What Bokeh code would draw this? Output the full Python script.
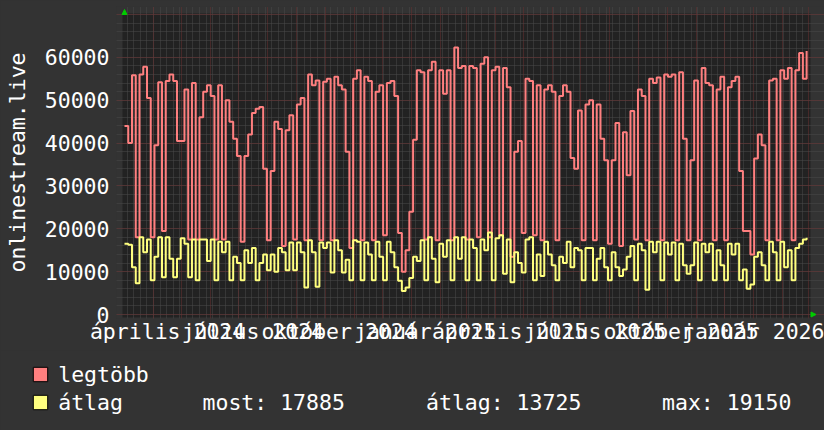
import datetime as dt
from bokeh.plotting import figure
from bokeh.layouts import column
from bokeh.models import (Range1d, LinearAxis, FixedTicker, Grid, Legend, LegendItem,
                          Label, Arrow, NormalHead, ColumnDataSource, AllLabels,
                          BoxAnnotation)
from bokeh.embed import file_html
from bokeh.resources import INLINE

# ---------------- data ----------------
START = dt.date(2024, 3, 1)
SPAN_DAYS = 730
STEP_DAYS = 4
Y_MAX = 70000

legtobb = [
    44000, 40000, 55800, 18000, 56000, 57800, 50500, 18000, 39500, 54200,
    19500, 54500, 56000, 54500, 40500, 40500, 52500, 17500, 54000, 17500,
    46000, 52000, 53500, 51000, 17500, 53500, 17500, 50000, 45000, 41000,
    37000, 17000, 37000, 42000, 47000, 48000, 48400, 34000, 17300, 33500,
    45000, 43300, 16000, 43000, 46500, 17500, 49000, 50500, 17300, 56000,
    53500, 54600, 17300, 54300, 55000, 17300, 55500, 53500, 52500, 38000,
    15500, 55000, 57000, 17300, 55500, 54500, 17300, 52000, 53500, 18500,
    54000, 54500, 51000, 19000, 10000, 15000, 24000, 40800, 57000, 56500,
    17500, 57000, 59000, 17300, 57000, 51500, 57000, 17300, 62300, 57500,
    58000, 17500, 58000, 57500, 18000, 58500, 60000, 18000, 57000, 57800,
    18500, 57500, 53000, 13500, 38000, 40500, 19000, 55000, 54500, 18500,
    53500, 17300, 52500, 53500, 52000, 17300, 51000, 53500, 52000, 36500,
    34000, 47600, 17300, 49000, 50000, 17300, 49000, 41000, 36000, 16500,
    36000, 44700, 16000, 42500, 32500, 47500, 17500, 52500, 51000, 17300,
    55000, 54000, 55300, 17300, 56000, 55500, 56000, 17300, 56500, 41000,
    17300, 36000, 54600, 17300, 57500, 54000, 53500, 17300, 52500, 55500,
    17300, 53000, 54500, 55500, 33500, 19500, 19500, 14000, 36400, 42000,
    39500, 17300, 54600, 55000, 17300, 57000, 55000, 57500, 17300, 57000,
    61000, 55000, 61500,
]

atlag = [
    16500, 16300, 11000, 7300, 18000, 14500, 17500, 8000, 13500, 18000,
    8700, 18000, 13000, 8700, 13000, 17800, 16500, 8700, 17500, 8000,
    17500, 17500, 12500, 17500, 8000, 17000, 14500, 17000, 8000, 13500,
    12000, 8000, 15000, 12000, 15500, 8000, 12000, 14000, 10300, 14000,
    10000, 15500, 14500, 10300, 16800, 10300, 16800, 14500, 6300, 17300,
    14500, 6500, 16800, 15500, 16800, 9800, 17300, 15000, 9800, 12800,
    8000, 17300, 17000, 8000, 16800, 14000, 8000, 17000, 13500, 8000,
    17000, 14500, 11000, 7900, 5500, 6300, 8500, 13500, 12500, 17300,
    8000, 18000, 13000, 7500, 16500, 13500, 17300, 8000, 18000, 13000,
    18000, 8000, 17500, 15500, 8000, 17500, 15000, 19150, 8000, 17800,
    18500, 9500, 17500, 7500, 14500, 12000, 9800, 17500, 18000, 8000,
    14000, 9000, 17000, 14000, 11500, 8000, 13500, 12000, 17000, 11000,
    15500, 15000, 8000, 15500, 15500, 8000, 13000, 15500, 11000, 8000,
    14500, 11000, 9000, 10500, 13500, 16000, 8000, 16500, 15000, 5800,
    17000, 14500, 17000, 8000, 16800, 14000, 16800, 8000, 16500, 11500,
    9500, 11500, 16800, 8000, 16500, 14500, 16500, 8000, 15000, 11500,
    8000, 16500, 14000, 16500, 8000, 10500, 6000, 7000, 13500, 14500,
    11500, 8000, 17000, 14500, 8000, 17000, 11000, 15000, 8000, 15500,
    16500, 17500, 17885,
]

y_ticks = [0, 10000, 20000, 30000, 40000, 50000, 60000]
x_labels = ["április 2024", "július 2024", "október 2024", "január 2025",
            "április 2025", "július 2025", "október 2025", "január 2026"]
x_label_dates = [dt.date(2024, 4, 16), dt.date(2024, 7, 16), dt.date(2024, 10, 16),
                 dt.date(2025, 1, 16), dt.date(2025, 4, 16), dt.date(2025, 7, 16),
                 dt.date(2025, 10, 16), dt.date(2026, 1, 16)]
series_names = ["legtöbb", "átlag"]
stats = ["most: 17885", "átlag: 13725", "max: 19150"]

# ---------------- layout constants (page pixels) ----------------
W, H1, H2 = 824, 350, 80
DATA_L, DATA_R, DATA_T, DATA_B = 124, 808, 14, 314       # data area
FR_L, FR_R, FR_T, FR_B = 116, 824, 6, 318                # plot frame
CAN_L, CAN_R, CAN_T, CAN_B = 122, 810, 13, 317           # dark canvas
px_day = (DATA_R - DATA_L) / SPAN_DAYS
px_val = (DATA_B - DATA_T) / Y_MAX


def xd(px):
    return (px - DATA_L) / px_day


def yd(px):
    return (DATA_B - px) / px_val


x_start, x_end = xd(FR_L), xd(FR_R)
y_start, y_end = yd(FR_B), yd(FR_T)

# ---------------- derived positions ----------------
days = [STEP_DAYS * i for i in range(len(legtobb))]
label_days = [(d - START).days for d in x_label_dates]

month_days = []
yy, mm = 2024, 4
while True:
    off = (dt.date(yy, mm, 1) - START).days
    if off > SPAN_DAYS:
        break
    month_days.append(off)
    mm += 1
    if mm > 12:
        mm, yy = 1, yy + 1
week_days = list(range(3, SPAN_DAYS + 1, 7))  # Mondays

FONT = "DejaVu Sans Mono"
FS = "21.5px"
BG = "#333333"
CANVAS = "#222222"
RED = "#ff7f7f"
YEL = "#ffff7f"
MAJ = "#6a3030"
MIN = "#4a4a4a"
GREEN = "#00cc00"

p = figure(width=W, height=H1, output_backend="svg", toolbar_location=None,
           x_range=Range1d(x_start, x_end), y_range=Range1d(y_start, y_end),
           x_axis_location=None, y_axis_location=None,
           min_border_left=FR_L, min_border_right=W - FR_R, min_border_top=FR_T,
           min_border_bottom=H1 - FR_B,
           background_fill_color=BG, border_fill_color=BG,
           outline_line_color=None)
p.frame_align = False
p.center = [r for r in p.center if not isinstance(r, Grid)]

# dark canvas behind the graph
p.add_layout(BoxAnnotation(left=xd(CAN_L), right=xd(CAN_R),
                           bottom=yd(CAN_B), top=yd(CAN_T),
                           fill_color=CANVAS, fill_alpha=1, line_color=None,
                           level="underlay"))

xgrid = Grid(dimension=0, ticker=FixedTicker(ticks=month_days, minor_ticks=week_days),
             bounds=(yd(CAN_B), Y_MAX),
             grid_line_color=MAJ, grid_line_dash="1 1", grid_line_width=1,
             minor_grid_line_color=MIN, minor_grid_line_dash="1 1")
ygrid = Grid(dimension=1,
             ticker=FixedTicker(ticks=list(range(0, Y_MAX + 1, 10000)),
                                minor_ticks=list(range(0, Y_MAX + 1, 2000))),
             bounds=(0, SPAN_DAYS),
             grid_line_color=MAJ, grid_line_dash="1 1", grid_line_width=1,
             minor_grid_line_color=MIN, minor_grid_line_dash="1 1")
p.add_layout(xgrid, "center")
p.add_layout(ygrid, "center")

yaxis = LinearAxis(ticker=FixedTicker(ticks=y_ticks),
                   major_label_overrides={v: str(v) for v in y_ticks},
                   axis_label="onlinestream.live",
                   axis_label_text_font=FONT, axis_label_text_font_size=FS,
                   axis_label_text_font_style="normal", axis_label_text_color="white",
                   axis_label_standoff=12,
                   major_label_text_font=FONT, major_label_text_font_size=FS,
                   major_label_text_color="white", major_label_standoff=7,
                   axis_line_color=None, major_tick_line_color=None,
                   minor_tick_line_color=None, major_tick_out=0, major_tick_in=0)
p.add_layout(yaxis, "left")

xaxis = LinearAxis(ticker=FixedTicker(ticks=label_days),
                   major_label_overrides=dict(zip(label_days, x_labels)),
                   major_label_policy=AllLabels(),
                   major_label_text_font=FONT, major_label_text_font_size=FS,
                   major_label_text_color="white", major_label_standoff=0,
                   axis_line_color=None, major_tick_line_color=None,
                   minor_tick_line_color=None, major_tick_out=0, major_tick_in=0)
p.add_layout(xaxis, "below")

src = ColumnDataSource(dict(day=days, legtobb=legtobb, atlag=atlag))
p.step("day", "legtobb", source=src, mode="after", line_color=RED, line_width=2)
p.step("day", "atlag", source=src, mode="after", line_color=YEL, line_width=2)

# rrdtool-style green axis arrows
p.add_layout(Arrow(end=NormalHead(size=5, fill_color=GREEN, line_color=GREEN, line_width=1),
                   x_start=0, y_start=Y_MAX, x_end=0, y_end=yd(DATA_T - 5),
                   line_alpha=0))
p.add_layout(Arrow(end=NormalHead(size=5, fill_color=GREEN, line_color=GREEN, line_width=1),
                   x_start=SPAN_DAYS, y_start=0, x_end=xd(DATA_R + 7.5), y_end=0,
                   line_alpha=0))

# ---------------- legend strip ----------------
p2 = figure(width=W, height=H2, output_backend="svg", toolbar_location=None,
            x_range=Range1d(0, 1), y_range=Range1d(0, 1),
            x_axis_location=None, y_axis_location=None,
            min_border_left=0, min_border_right=0, min_border_top=0, min_border_bottom=0,
            background_fill_color=BG, border_fill_color=BG, outline_line_color=None)
p2.frame_align = False
p2.center = [r for r in p2.center if not isinstance(r, Grid)]

# swatch renderers: one off-range box each, only their legend glyph is seen
r_red = p2.quad(left=[2], right=[3], top=[3], bottom=[2], fill_color=RED, line_color="black")
r_yel = p2.quad(left=[2], right=[3], top=[3], bottom=[2], fill_color=YEL, line_color="black")
legend = Legend(items=[LegendItem(label=series_names[0], renderers=[r_red]),
                       LegendItem(label=series_names[1], renderers=[r_yel])],
                location=(31.2, 14), orientation="vertical",
                glyph_width=18, glyph_height=18, label_standoff=9, spacing=0,
                label_height=28, padding=0, margin=0, border_line_color=None,
                background_fill_alpha=0,
                label_text_font=FONT, label_text_font_size=FS,
                label_text_color="white")
p2.add_layout(legend, "center")

for txt, xpos in zip(stats, [202, 425.5, 661.5]):
    p2.add_layout(Label(x=xpos, y=28, x_units="screen", y_units="screen", text=txt,
                        text_baseline="middle", text_font=FONT, text_font_size=FS,
                        text_color="white"))

layout = column(p, p2, spacing=0)

html = file_html(layout, INLINE, title="onlinestream.live")
html = html.replace("<head>", "<head>\n<style>html, body { background-color: #333333; }</style>", 1)
with open("out.html", "w", encoding="utf-8") as f:
    f.write(html)
